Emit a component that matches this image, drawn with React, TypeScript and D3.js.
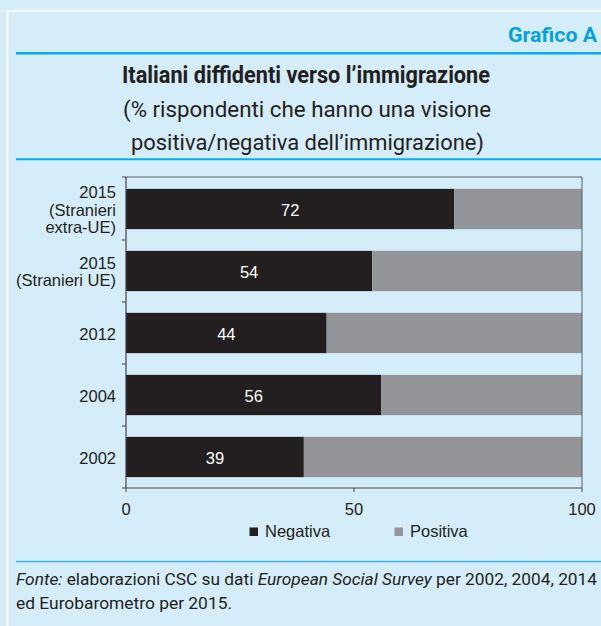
import React from "react";
import * as d3 from "d3";

const categories: string[][] = [
  ["2015", "(Stranieri", "extra-UE)"],
  ["2015", "(Stranieri UE)"],
  ["2012"],
  ["2004"],
  ["2002"],
];
const negativa: number[] = [72, 54, 44, 56, 39];
const positiva: number[] = negativa.map((v) => 100 - v);
const xTicks: number[] = [0, 50, 100];
const seriesNames: string[] = ["Negativa", "Positiva"];

const W = 601;
const H = 626;
const BG = "#d5ecf9";
const BLUE = "#00aeef";
const DARK = "#231f20";
const GREY = "#939598";
const SANS = "'Liberation Sans', Arial, sans-serif";
const NARROW = "Roboto, 'Liberation Sans', sans-serif";

export default function App() {
  const keys = categories.map((c) => c.join(" "));
  const x = d3.scaleLinear().domain([0, 100]).range([126, 582]);
  const y = d3.scaleBand<string>().domain(keys).range([178, 488]).paddingInner(0.35).paddingOuter(0.175);
  const [y0, y1] = y.range();
  const step = y.step();
  const boundaries = d3.range(keys.length + 1).map((i) => y0 + i * step);

  return (
    <svg width={W} height={H} style={{ position: "absolute", left: 0, top: 0 }}>
      <rect x={0} y={0} width={W} height={H} fill={BG} />
      {/* panel border */}
      <path d={`M7.5,${H} V10.75 H${W}`} fill="none" stroke="#ffffff" strokeWidth={1.5} />
      {/* header */}
      <text x={597} y={42} textAnchor="end" fontFamily={NARROW} fontWeight="bold" fontSize={21}
        fill="#00a3e0" textLength={89} lengthAdjust="spacingAndGlyphs">Grafico A</text>
      <line x1={16} x2={W} y1={53.3} y2={53.3} stroke={BLUE} strokeWidth={2.5} />
      <text x={122} y={83.3} fontFamily={NARROW} fontWeight="bold" fontSize={24.5} fill={DARK}
        textLength={368} lengthAdjust="spacingAndGlyphs">Italiani diffidenti verso l’immigrazione</text>
      <text x={123} y={116.7} fontFamily={NARROW} fontSize={22} fill={DARK}
        textLength={368} lengthAdjust="spacingAndGlyphs">(% rispondenti che hanno una visione</text>
      <text x={131} y={150} fontFamily={NARROW} fontSize={22} fill={DARK}
        textLength={353} lengthAdjust="spacingAndGlyphs">positiva/negativa dell’immigrazione)</text>
      <line x1={16} x2={W} y1={159.3} y2={159.3} stroke={BLUE} strokeWidth={2} />

      {/* bars */}
      {keys.map((k, i) => (
        <g key={k}>
          <rect x={x(0)} y={y(k)} width={x(negativa[i]) - x(0)} height={y.bandwidth()} fill={DARK} />
          <rect x={x(negativa[i])} y={y(k)} width={x(negativa[i] + positiva[i]) - x(negativa[i])}
            height={y.bandwidth()} fill={GREY} />
          <text x={(x(0) + x(negativa[i])) / 2} y={(y(k) as number) + y.bandwidth() / 2} dy="0.4em"
            textAnchor="middle" fontFamily={SANS} fontSize={16.5} fill="#ffffff">{negativa[i]}</text>
        </g>
      ))}

      {/* frame */}
      <path d={`M${x(0)},${y0 - 1} H${x(100)} V${y1}`} fill="none" stroke="#5b6066" strokeWidth={1} />
      <line x1={x(0)} x2={x(0)} y1={y0 - 1} y2={y1} stroke="#404448" strokeWidth={1.2} />
      <line x1={x(0)} x2={x(100)} y1={y1} y2={y1} stroke="#404448" strokeWidth={1.2} />
      {boundaries.map((b, i) => (
        <line key={i} x1={x(0) - 4} x2={x(0)} y1={i === 0 ? b - 1 : b} y2={i === 0 ? b - 1 : b} stroke="#404448" strokeWidth={1} />
      ))}
      {xTicks.map((t) => (
        <g key={t}>
          <line x1={x(t)} x2={x(t)} y1={y1} y2={y1 + 4} stroke="#404448" strokeWidth={1} />
          <text x={x(t)} y={515} textAnchor="middle" fontFamily={SANS} fontSize={16.5} fill={DARK}>{t}</text>
        </g>
      ))}

      {/* category labels */}
      {categories.map((lines, i) => {
        const cy = (y(keys[i]) as number) + y.bandwidth() / 2;
        const lh = 17.6;
        const first = cy - ((lines.length - 1) * lh) / 2;
        return (
          <text key={keys[i]} x={116} textAnchor="end" fontFamily={SANS} fontSize={16.5} fill={DARK}>
            {lines.map((l, j) => (
              <tspan key={j} x={116} y={first + j * lh} dy="0.4em">{l}</tspan>
            ))}
          </text>
        );
      })}

      {/* legend */}
      {seriesNames.map((s, i) => {
        const lx = i === 0 ? 249.5 : 394.5;
        return (
          <g key={s}>
            <rect x={lx} y={527.5} width={8.5} height={8.5} fill={i === 0 ? DARK : GREY} />
            <text x={lx + 15.5} y={537} fontFamily={SANS} fontSize={16.5} fill={DARK}>{s}</text>
          </g>
        );
      })}

      {/* footer */}
      <line x1={16} x2={W} y1={561.5} y2={561.5} stroke="#35b3e8" strokeWidth={1.5} />
      <text x={16} y={585} fontFamily={NARROW} fontSize={16} fill={DARK} textLength={581} lengthAdjust="spacingAndGlyphs">
        <tspan fontStyle="italic">Fonte:</tspan>
        <tspan> elaborazioni CSC su dati </tspan>
        <tspan fontStyle="italic">European Social Survey</tspan>
        <tspan> per 2002, 2004, 2014</tspan>
      </text>
      <text x={16} y={609} fontFamily={NARROW} fontSize={16} fill={DARK} textLength={216} lengthAdjust="spacingAndGlyphs">
        ed Eurobarometro per 2015.
      </text>
    </svg>
  );
}
